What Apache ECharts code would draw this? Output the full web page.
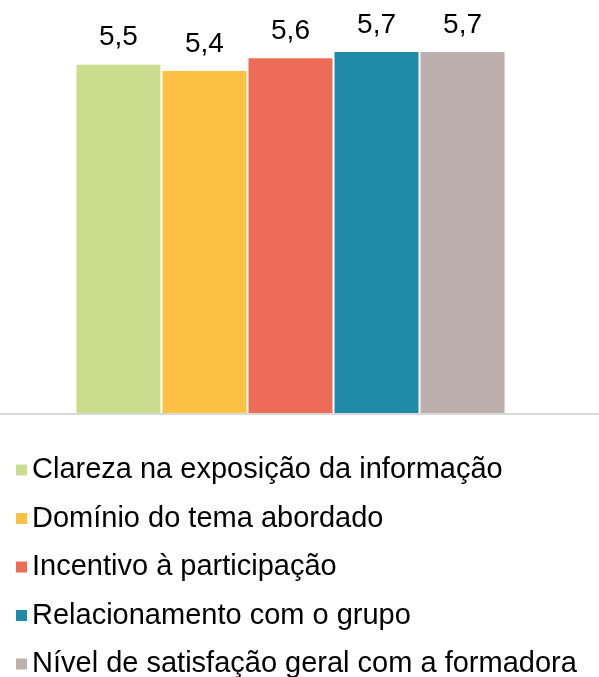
<!DOCTYPE html>
<html>
<head>
<meta charset="utf-8">
<script src="https://cdn.jsdelivr.net/npm/echarts@6/dist/echarts.min.js"></script>
<style>
  html, body { margin: 0; padding: 0; background: #fff; }
  #chart { width: 599px; height: 677px; }
</style>
</head>
<body>
<div id="chart"></div>
<script>
const seriesNames = [
  'Clareza na exposição da informação',
  'Domínio do tema abordado',
  'Incentivo à participação',
  'Relacionamento com o grupo',
  'Nível de satisfação geral com a formadora'
]
const seriesValues = [5.5, 5.4, 5.6, 5.7, 5.7]
const seriesColors = ['#cadc8d', '#fdc144', '#ed6c58', '#1f8ba8', '#bdb0ac']

const chart = echarts.init(document.getElementById('chart'))
const font = 'Liberation Sans, Arial, sans-serif'

chart.setOption({
  animation: false,
  textStyle: { fontFamily: font },
  legend: {
    orient: 'vertical',
    left: 11,
    top: 450,
    height: 240,
    itemWidth: 11,
    itemHeight: 11,
    itemGap: 18.5,
    icon: 'rect',
    textStyle: { color: '#000', fontSize: 29, lineHeight: 30, fontFamily: font },
    data: seriesNames
  },
  // 柱子所在网格 + 一条贯穿全宽的底轴线
  grid: [
    { left: 0, right: 18, top: 33, bottom: 264, containLabel: false },
    { left: 0, right: 0, top: 33, bottom: 263, containLabel: false }
  ],
  xAxis: [
    { type: 'category', gridIndex: 0, data: [''], axisLine: { show: false }, axisTick: { show: false }, axisLabel: { show: false } },
    { type: 'category', gridIndex: 1, data: [''], axisLine: { show: true, lineStyle: { color: '#d9d9d9', width: 2 } }, axisTick: { show: false }, axisLabel: { show: false } }
  ],
  yAxis: [
    { type: 'value', gridIndex: 0, min: 0, max: 6, show: false, splitLine: { show: false } },
    { type: 'value', gridIndex: 1, min: 0, max: 6, show: false, splitLine: { show: false } }
  ],
  series: seriesNames.map((name, i) => ({
    name,
    type: 'bar',
    xAxisIndex: 0,
    yAxisIndex: 0,
    data: [seriesValues[i]],
    barWidth: 84,
    barGap: '2.4%',
    itemStyle: { color: seriesColors[i] },
    label: {
      show: true,
      position: 'top',
      distance: 13,
      color: '#000',
      fontSize: 28,
      fontFamily: font,
      formatter: (p) => p.value.toFixed(1).replace('.', ',')
    }
  }))
})
</script>
</body>
</html>
